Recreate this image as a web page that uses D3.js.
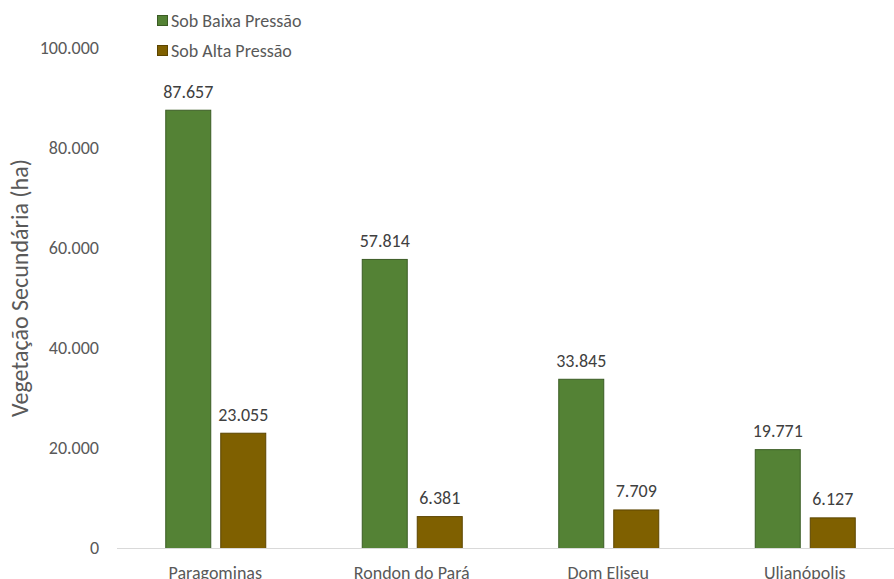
<!DOCTYPE html>
<html>
<head>
	<meta charset="utf-8">
	<script src="https://cdn.jsdelivr.net/npm/d3@7"></script>
	<style>
		body { margin: 0; background: #fff; }
		text { font-family: Carlito, "Liberation Sans Narrow", "Open Sans", sans-serif; fill: #595959; }
	</style>
</head>
<body>
	<svg width="894" height="579"></svg>
	<script>
		var municipios = ['Paragominas', 'Rondon do Pará', 'Dom Eliseu', 'Ulianópolis'];
		var baixaPressao = [87657, 57814, 33845, 19771];
		var altaPressao = [23055, 6381, 7709, 6127];
		var seriesNames = ['Sob Baixa Pressão', 'Sob Alta Pressão'];
		var yTicks = [0, 20000, 40000, 60000, 80000, 100000];

		var fills = ['#548235', '#7f6000'];
		var strokes = ['#3b5c25', '#5c4500'];

		var svg = d3.select('svg');
		var fmt = d3.formatLocale({ decimal: ',', thousands: '.', grouping: [3], currency: ['R$', ''] }).format(',d');

		var x = d3.scaleBand().domain(municipios).range([117, 903]);
		var y = d3.scaleLinear().domain([0, 100000]).range([548, 48]);

		// y tick labels (no grid)
		svg.append('g').selectAll('text')
			.data(yTicks)
			.enter().append('text')
			.attr('x', 99)
			.attr('y', function(d) { return y(d); })
			.attr('dy', '0.35em')
			.attr('text-anchor', 'end')
			.style('font-size', '18px')
			.text(function(d) { return fmt(d); });

		svg.append('text')
			.attr('transform', 'translate(28,288) rotate(-90)')
			.attr('text-anchor', 'middle')
			.style('font-size', '24px')
			.text('Vegetação Secundária (ha)');

		var series = [baixaPressao, altaPressao];
		var offsets = [-50, 5];

		series.forEach(function(vals, s) {
			var g = svg.append('g');
			g.selectAll('rect')
				.data(vals)
				.enter().append('rect')
				.attr('x', function(d, i) { return x(municipios[i]) + x.bandwidth() / 2 + offsets[s] + 0.5; })
				.attr('y', function(d) { return y(d) + 0.5; })
				.attr('width', 45)
				.attr('height', function(d) { return y(0) - y(d); })
				.style('fill', fills[s])
				.style('stroke', strokes[s])
				.style('stroke-width', 1);
			g.selectAll('text')
				.data(vals)
				.enter().append('text')
				.attr('x', function(d, i) { return x(municipios[i]) + x.bandwidth() / 2 + offsets[s] + 23; })
				.attr('y', function(d) { return y(d) - 12; })
				.attr('text-anchor', 'middle')
				.style('font-size', '18px')
				.style('fill', '#404040')
				.text(function(d) { return fmt(d); });
		});

		// x axis line
		svg.append('line')
			.attr('x1', 117).attr('x2', 894)
			.attr('y1', y(0) + 0.5).attr('y2', y(0) + 0.5)
			.style('stroke', '#d9d9d9')
			.style('stroke-width', 1);

		svg.append('g').selectAll('text')
			.data(municipios)
			.enter().append('text')
			.attr('x', function(d) { return x(d) + x.bandwidth() / 2; })
			.attr('y', 579)
			.attr('text-anchor', 'middle')
			.style('font-size', '18px')
			.text(function(d) { return d; });

		// legend
		var legend = svg.append('g').selectAll('g')
			.data(seriesNames)
			.enter().append('g')
			.attr('transform', function(d, i) { return 'translate(157,' + (15 + i * 30) + ')'; });
		legend.append('rect')
			.attr('x', 0.5).attr('y', 0.5)
			.attr('width', 10).attr('height', 10)
			.style('fill', function(d, i) { return fills[i]; })
			.style('stroke', function(d, i) { return strokes[i]; });
		legend.append('text')
			.attr('x', 14)
			.attr('y', 6)
			.attr('dy', '0.35em')
			.style('font-size', '18px')
			.text(function(d) { return d; });
	</script>
</body>
</html>
